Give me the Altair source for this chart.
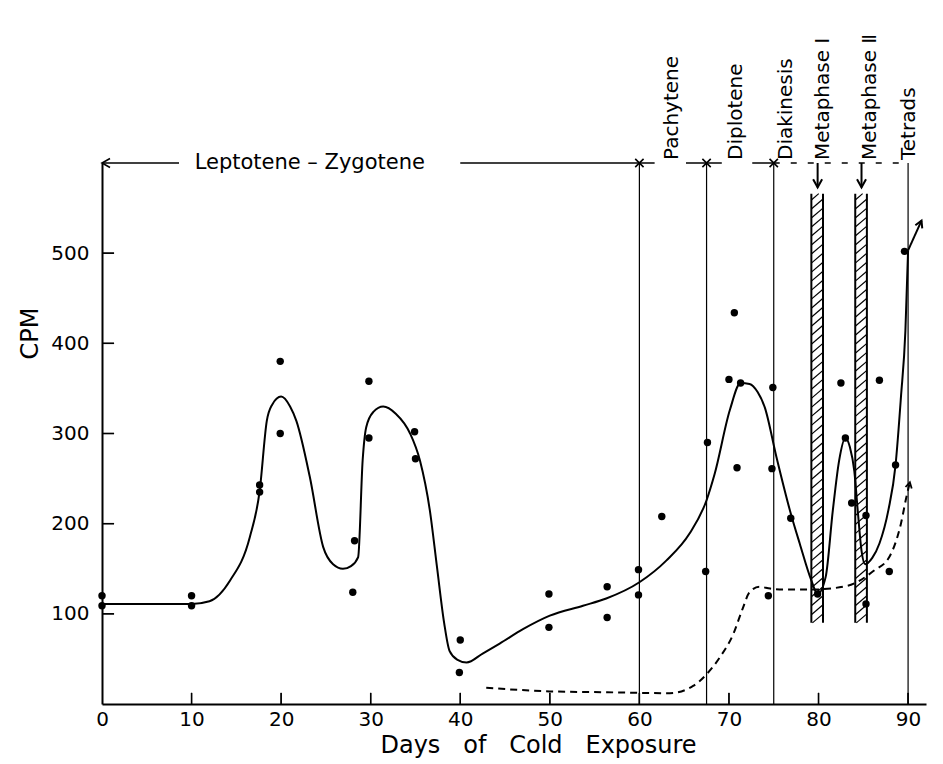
import altair as alt
import pandas as pd
import numpy as np

# ---------------- data ----------------
pt_day = [0, 0, 10, 10, 17.6, 17.6, 19.9, 19.9, 28.2, 28.0, 29.8, 29.8, 34.9, 35.0,
          40.0, 39.9, 49.9, 49.9, 56.4, 56.4, 59.9, 59.9, 62.5, 67.4, 67.6, 70.0,
          70.6, 71.3, 70.9, 74.9, 74.8, 74.4, 76.9, 79.9, 82.5, 83.0, 83.7, 85.3,
          85.3, 86.8, 87.9, 88.6, 89.6]
pt_cpm = [120, 109, 120, 109, 243, 235, 380, 300, 181, 124, 358, 295, 302, 272,
          71, 35, 122, 85, 130, 96, 149, 121, 208, 147, 290, 360,
          434, 356, 262, 351, 261, 120, 206, 122, 356, 295, 223, 209,
          111, 359, 147, 265, 502]

curve_day = [0, 10, 12, 14.3, 16.5, 17.6, 18.4, 19.0, 20.0, 21.0, 21.7, 23.2, 24.7, 25.8,
             26.9, 27.8, 28.6, 29.1, 29.5, 30.3, 31.4, 32.8, 34.4, 35.5, 36.6, 37.4,
             38.2, 38.8, 39.7, 40.7, 42.5, 44.4, 47, 50, 53.7, 56.3, 60, 63, 65.6,
             67.5, 68.4, 70.1, 71.3, 72.3, 73.2, 74.0, 75.3, 76.8, 77.9, 79.2, 79.9,
             80.8, 81.6, 82.3, 83.0, 83.5, 84.0, 84.4, 84.8, 85.2, 86.0, 86.8, 87.8,
             88.6, 89.2, 89.7, 90.0]
curve_cpm = [111, 111, 114, 137, 185, 236, 314, 332, 341, 330, 314, 252, 174, 155,
             150, 153, 163, 270, 307, 324, 330, 322, 300, 270, 215, 152,
             90, 59, 49, 46, 56, 67, 83, 98, 109, 117, 135, 159, 189,
             226, 255, 326, 356, 355, 346, 329, 274, 215, 178, 137, 122,
             141, 215, 270, 295, 285, 258, 212, 170, 155, 162, 178, 215,
             265, 340, 414, 503]
curve_tail_day = [90.0, 91.5]
curve_tail_cpm = [503, 536]

dash_day = [42.9, 50, 56.4, 63.4, 66.0, 67.5, 69.0, 70.5, 71.5, 72.3, 73.4, 74.6, 76,
            79.4, 83.2, 86.2, 87.9, 89.2, 89.8, 90.2]
dash_cpm = [18, 14, 13, 12, 20, 33, 52, 78, 105, 124, 130, 128, 127,
            127, 131, 148, 163, 200, 229, 246]

x_tick_values = [0, 10, 20, 30, 40, 50, 60, 70, 80, 90]
x_inner_ticks = [10, 20, 30, 40, 50, 60, 70, 80, 90]
y_tick_values = [100, 200, 300, 400, 500]

stage_line_days = [60, 67.5, 75, 90]
stage_cross_days = [60, 67.5, 75]
stage_labels = ["Pachytene", "Diplotene", "Diakinesis", "Metaphase \u2160",
                "Metaphase \u2161", "Tetrads"]
stage_label_days = [63.6, 70.8, 76.4, 80.5, 85.7, 90.1]
top_level = 600
solid_seg_start = [0, 40, 65.2, 72.6]
solid_seg_end = [8.6, 61.7, 69.2, 75]
dashed_seg_start = [75]
dashed_seg_end = [90]
lepto_label = "Leptotene \u2013 Zygotene"
lepto_day = 23.2

bar_start = [79.2, 84.1]
bar_end = [80.5, 85.4]
bar_low = 90
bar_high = 566
meta_arrow_day = [79.9, 84.8]
meta_arrow_tip = 573

# ---------------- helpers ----------------
FONT = "DejaVu Sans"
NB = "\u00a0\u00a0\u00a0"
XTICK_LEN = 12.5   # inner tick length in CPM units
YTICK_LEN = 1.35   # inner tick length in days
xscale = alt.Scale(domain=[0, 92], nice=False, zero=False)
yscale = alt.Scale(domain=[0, 600], nice=False, zero=False)
x_axis = alt.Axis(values=x_tick_values, title="Days" + NB + "of" + NB + "Cold" + NB + "Exposure",
                  ticks=False, grid=False, labelPadding=5, labelFontSize=20,
                  labelFlush=False,
                  titleFontSize=24, titleFontWeight="normal", titleX=436, titleY=41,
                  titleBaseline="middle", titleAlign="center")
y_axis = alt.Axis(values=y_tick_values, title="CPM", ticks=False, grid=False,
                  labelPadding=13, labelFontSize=20, labelFlush=False, titleFontSize=24,
                  titleFontWeight="normal", titleX=-72, titleY=170, titleAngle=270,
                  titleAlign="center", titleBaseline="middle")


def X(f):
    return alt.X(f, type="quantitative", scale=xscale, axis=x_axis)


def Y(f):
    return alt.Y(f, type="quantitative", scale=yscale, axis=y_axis)


points = pd.DataFrame({"day": pt_day, "cpm": pt_cpm})
curve = pd.DataFrame({"day": curve_day, "cpm": curve_cpm})
tail = pd.DataFrame({"day": curve_tail_day, "cpm": curve_tail_cpm})
dashed = pd.DataFrame({"day": dash_day, "cpm": dash_cpm})

# vertical rules: stage lines + metaphase bar sides
v_day = stage_line_days + bar_start + bar_end
v_lo = [0] * len(stage_line_days) + [bar_low] * 4
v_hi = [top_level] * len(stage_line_days) + [bar_high] * 4
v_w = [1.2] * len(stage_line_days) + [2.0] * 4
vlines = pd.DataFrame({"day": v_day, "lo": v_lo, "hi": v_hi, "w": v_w})
vline_layer = alt.Chart(vlines).mark_rule(color="black").encode(
    x=X("day"), y=Y("lo"), y2="hi",
    strokeWidth=alt.StrokeWidth("w:Q", scale=None, legend=None))

# inner ticks as symbol strokes anchored on the axes
xt = pd.DataFrame({"day": x_inner_ticks, "cpm": [0] * len(x_inner_ticks)})
xt_layer = alt.Chart(xt).mark_point(
    shape="M0,0L0,-2", filled=False, color="black", strokeWidth=1.5, size=121,
    opacity=1).encode(x=X("day"), y=Y("cpm"))
yt = pd.DataFrame({"day": [0] * len(y_tick_values), "cpm": y_tick_values})
yt_layer = alt.Chart(yt).mark_point(
    shape="M0,0L2,0", filled=False, color="black", strokeWidth=1.5, size=144,
    opacity=1).encode(x=X("day"), y=Y("cpm"))

# top bracket
solid = pd.DataFrame({"a": solid_seg_start, "b": solid_seg_end,
                      "y": [top_level] * len(solid_seg_start)})
solid_layer = alt.Chart(solid).mark_rule(color="black", strokeWidth=1.5).encode(
    x=X("a"), x2="b", y=Y("y"))
dseg = pd.DataFrame({"a": dashed_seg_start, "b": dashed_seg_end, "y": [top_level]})
dseg_layer = alt.Chart(dseg).mark_rule(color="black", strokeWidth=1.5,
                                       strokeDash=[6, 11]).encode(
    x=X("a"), x2="b", y=Y("y"))

cross = pd.DataFrame({"day": stage_cross_days, "y": [top_level] * 3})
cross_layer = alt.Chart(cross).mark_point(
    shape="M-1,-1L1,1M-1,1L1,-1", filled=False, color="black", strokeWidth=1.6,
    size=70, opacity=1).encode(x=X("day"), y=Y("y"))

left_arrow = pd.DataFrame({"day": [0], "y": [top_level]})
left_arrow_layer = alt.Chart(left_arrow).mark_point(
    shape="M1.6,-0.9L0,0L1.6,0.9", filled=False, color="black", strokeWidth=1.6,
    size=100, opacity=1).encode(x=X("day"), y=Y("y"))

lepto = pd.DataFrame({"day": [lepto_day], "y": [top_level], "t": [lepto_label]})
lepto_layer = alt.Chart(lepto).mark_text(
    font=FONT, fontSize=21, color="black", baseline="middle", align="center").encode(
    x=X("day"), y=Y("y"), text="t")

labels = pd.DataFrame({"day": stage_label_days, "y": [top_level] * 6, "t": stage_labels})
labels_layer = alt.Chart(labels).mark_text(
    font=FONT, fontSize=20, color="black", angle=270, align="left",
    baseline="middle", dx=3).encode(x=X("day"), y=Y("y"), text="t")

# metaphase bar hatching (plus the inner axis ticks as extra segments)
hx0, hx1, hy0, hy1 = [], [], [], []
rise, step = 11.0, 10.0
for s, e in zip(bar_start, bar_end):
    ys = bar_low - rise
    while ys < bar_high:
        a_y, b_y = ys, ys + rise
        a_x, b_x = s, e
        if a_y < bar_low:
            a_x = s + (bar_low - a_y) / rise * (e - s)
            a_y = bar_low
        if b_y > bar_high:
            b_x = s + (bar_high - ys) / rise * (e - s)
            b_y = bar_high
        if b_y > a_y:
            hx0.append(a_x); hx1.append(b_x); hy0.append(a_y); hy1.append(b_y)
        ys += step
for t in x_inner_ticks:
    hx0.append(t); hx1.append(t); hy0.append(0); hy1.append(XTICK_LEN)
for v in y_tick_values:
    hx0.append(0); hx1.append(YTICK_LEN); hy0.append(v); hy1.append(v)
hatch = pd.DataFrame({"x0": hx0, "x1": hx1, "y0": hy0, "y1": hy1})
hatch_layer = alt.Chart(hatch).mark_rule(color="black", strokeWidth=1.2).encode(
    x=X("x0"), x2="x1", y=Y("y0"), y2="y1")

marrow = pd.DataFrame({"day": meta_arrow_day, "hi": [top_level] * 2, "lo": [meta_arrow_tip] * 2})
marrow_shaft = alt.Chart(marrow).mark_rule(color="black", strokeWidth=2).encode(
    x=X("day"), y=Y("lo"), y2="hi")
marrow_head = alt.Chart(marrow).mark_point(
    shape="M-0.9,-1.6L0,0L0.9,-1.6", filled=False, color="black", strokeWidth=2,
    size=100, opacity=1).encode(x=X("day"), y=Y("lo"))

# curves
curve_layer = alt.Chart(curve).mark_line(color="black", strokeWidth=2,
                                         interpolate="monotone").encode(
    x=X("day"), y=Y("cpm"))
tail_layer = alt.Chart(tail).mark_line(color="black", strokeWidth=2).encode(
    x=X("day"), y=Y("cpm"))
tail_head = alt.Chart(tail.tail(1)).mark_point(
    shape="M-0.9,1.6L0,0L0.9,1.6", filled=False, color="black", strokeWidth=2,
    size=70, opacity=1, angle=24).encode(x=X("day"), y=Y("cpm"))
dash_layer = alt.Chart(dashed).mark_line(color="black", strokeWidth=2,
                                         strokeDash=[7, 5],
                                         interpolate="monotone").encode(
    x=X("day"), y=Y("cpm"))
dash_head = alt.Chart(dashed.tail(1)).mark_point(
    shape="M-0.9,1.6L0,0L0.9,1.6", filled=False, color="black", strokeWidth=1.8,
    size=50, opacity=1, angle=13).encode(x=X("day"), y=Y("cpm"))

point_layer = alt.Chart(points).mark_circle(color="black", size=55, opacity=1).encode(
    x=X("day"), y=Y("cpm"))

chart = alt.layer(
    point_layer, vline_layer, xt_layer, yt_layer, solid_layer, dseg_layer, cross_layer,
    left_arrow_layer, lepto_layer, labels_layer, hatch_layer, marrow_shaft, marrow_head,
    curve_layer, tail_layer, tail_head, dash_layer, dash_head
).properties(
    width=824, height=541,
    autosize=alt.AutoSizeParams(type="none"),
    padding={"left": 94, "top": 155, "right": 9, "bottom": 56},
    background="white"
).configure_axis(
    labelFont=FONT, titleFont=FONT, labelColor="black", titleColor="black",
    domainColor="black", domainWidth=2
).configure_view(strokeWidth=0)

chart.save("out.html", embed_options={"renderer": "svg", "actions": False})
